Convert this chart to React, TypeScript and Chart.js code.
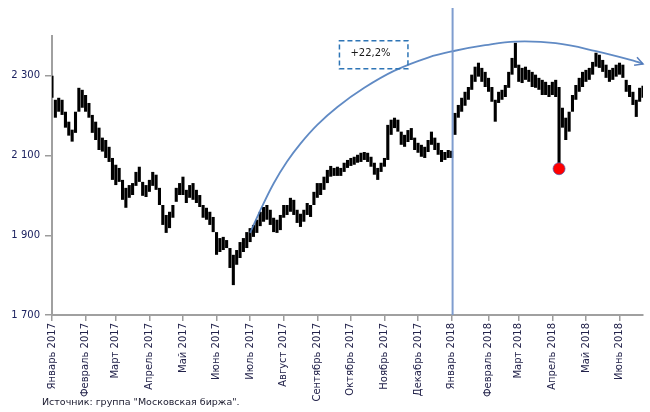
import React, { useEffect, useRef } from 'react';
import { Chart, registerables } from 'chart.js';

Chart.register(...registerables);

const monthLabels = [
  'Январь 2017', 'Февраль 2017', 'Март 2017', 'Апрель 2017', 'Май 2017', 'Июнь 2017',
  'Июль 2017', 'Август 2017', 'Сентябрь 2017', 'Октябрь 2017', 'Ноябрь 2017', 'Декабрь 2017',
  'Январь 2018', 'Февраль 2018', 'Март 2018', 'Апрель 2018', 'Май 2018', 'Июнь 2018',
];
const monthBarCounts = [10, 9, 10, 10, 10, 10, 10, 10, 10, 10, 10, 10, 11, 9, 10, 10, 10, 8];
const yTicks = [1700, 1900, 2100, 2300];

// [low, high] of the index, ~2 trading days per bar
const barRanges: [number, number][] = [
  // Jan 2017
  [2245, 2300], [2195, 2240], [2210, 2245], [2202, 2240], [2170, 2210], [2150, 2185], [2135, 2165], [2157, 2210], [2210, 2270], [2220, 2265],
  // Feb 2017
  [2210, 2252], [2195, 2232], [2157, 2202], [2139, 2185], [2114, 2170], [2110, 2145], [2094, 2139], [2084, 2122], [2039, 2094],
  // Mar 2017
  [2026, 2077], [2034, 2069], [1989, 2039], [1969, 2019], [1994, 2026], [2001, 2031], [2024, 2059], [2034, 2072], [1999, 2034], [1996, 2026],
  // Apr 2017
  [2009, 2039], [2024, 2059], [2014, 2052], [1976, 2019], [1926, 1976], [1906, 1951], [1918, 1959], [1944, 1976], [1984, 2019], [2001, 2031],
  // May 2017
  [2001, 2047], [1981, 2014], [1994, 2026], [1989, 2031], [1981, 2014], [1971, 2001], [1944, 1976], [1939, 1969], [1926, 1959], [1908, 1946],
  // Jun 2017
  [1851, 1908], [1858, 1893], [1863, 1896], [1868, 1888], [1818, 1868], [1775, 1851], [1826, 1863], [1843, 1883], [1858, 1893], [1868, 1908],
  // Jul 2017
  [1883, 1918], [1896, 1926], [1906, 1939], [1923, 1959], [1934, 1971], [1939, 1976], [1926, 1964], [1908, 1944], [1906, 1939], [1913, 1951],
  // Aug 2017
  [1944, 1976], [1951, 1976], [1959, 1994], [1951, 1989], [1931, 1964], [1921, 1954], [1934, 1964], [1951, 1981], [1946, 1976], [1976, 2009],
  // Sep 2017
  [1994, 2031], [2001, 2031], [2014, 2047], [2031, 2064], [2047, 2074], [2049, 2069], [2049, 2072], [2049, 2069], [2059, 2082], [2069, 2089],
  // Oct 2017
  [2074, 2094], [2077, 2097], [2082, 2102], [2084, 2107], [2089, 2109], [2084, 2107], [2072, 2097], [2052, 2082], [2039, 2069], [2059, 2082],
  // Nov 2017
  [2072, 2094], [2089, 2177], [2152, 2190], [2169, 2195], [2160, 2190], [2127, 2160], [2122, 2152], [2134, 2164], [2139, 2169], [2114, 2145],
  // Dec 2017
  [2107, 2132], [2097, 2127], [2094, 2122], [2109, 2139], [2127, 2160], [2114, 2145], [2102, 2132], [2084, 2114], [2089, 2109], [2094, 2114],
  // Jan 2018
  [2094, 2112], [2152, 2207], [2195, 2227], [2210, 2245], [2225, 2260], [2240, 2272], [2265, 2303], [2285, 2323], [2298, 2333], [2285, 2320], [2272, 2310],
  // Feb 2018
  [2260, 2295], [2235, 2272], [2185, 2240], [2232, 2260], [2240, 2265], [2247, 2277], [2270, 2310], [2303, 2345], [2320, 2383],
  // Mar 2018
  [2285, 2328], [2282, 2320], [2290, 2323], [2285, 2315], [2272, 2310], [2270, 2303], [2265, 2295], [2252, 2290], [2252, 2285], [2247, 2277],
  // Apr 2018
  [2252, 2285], [2247, 2290], [2069, 2272], [2170, 2220], [2139, 2195], [2160, 2210], [2210, 2252], [2240, 2277], [2260, 2295], [2272, 2310],
  // May 2018
  [2285, 2315], [2290, 2320], [2303, 2335], [2323, 2358], [2320, 2353], [2310, 2340], [2295, 2328], [2285, 2315], [2290, 2320], [2298, 2328],
  // Jun 2018
  [2303, 2333], [2295, 2328], [2260, 2290], [2247, 2277], [2227, 2260], [2197, 2240], [2235, 2270], [2245, 2275],
];

// hand-drawn growth arc (bar index, value)
const arcIndex = [59, 62, 66, 70, 74, 79, 85, 93, 102, 112, 120, 129, 138, 150, 162, 174, 176];
const arcValue = [1906, 1962, 2030, 2085, 2130, 2177, 2222, 2270, 2313, 2346, 2363, 2377, 2386, 2382, 2362, 2336, 2330];

const crashIndex = 151;
const crashLow = 2067;
const growthLabel = '+22,2%';
const sourceText = 'Источник: группа "Московская биржа".';

const FONT = '"DejaVu Sans", Verdana, sans-serif';

export default function App() {
  const ref = useRef<HTMLCanvasElement | null>(null);

  useEffect(() => {
    document.body.style.margin = '0';
    const canvas = ref.current;
    if (!canvas) return;

    const labels: string[] = [];
    const monthStarts: number[] = [];
    monthBarCounts.forEach((n, m) => {
      monthStarts.push(labels.length);
      for (let k = 0; k < n; k++) labels.push(k === 0 ? monthLabels[m] : '');
    });
    const total = labels.length;

    const arcData: (number | null)[] = new Array(total).fill(null);
    arcIndex.forEach((idx, k) => { arcData[idx] = arcValue[k]; });
    const dotData: (number | null)[] = new Array(total).fill(null);
    dotData[crashIndex] = crashLow;

    const decor = {
      id: 'decor',
      afterDatasetsDraw(chart: any) {
        const { ctx, chartArea } = chart;
        const x = chart.scales.x;
        const y = chart.scales.y;
        ctx.save();
        // vertical line at January 2018
        const vx = x.getPixelForValue(monthStarts[12]) + 1;
        ctx.strokeStyle = 'rgba(120,152,204,0.95)';
        ctx.lineWidth = 2;
        ctx.beginPath();
        ctx.moveTo(vx, 8);
        ctx.lineTo(vx, chartArea.bottom);
        ctx.stroke();

        // arrow head at arc end
        const meta = chart.getDatasetMeta(1);
        const pts = meta.data.filter((p: any) => !p.skip);
        if (pts.length > 1) {
          const a = pts[pts.length - 2];
          const b = pts[pts.length - 1];
          const ang = Math.atan2(b.y - a.y, b.x - a.x);
          const L = 9;
          ctx.strokeStyle = 'rgba(79,120,185,0.95)';
          ctx.lineWidth = 1.5;
          ctx.beginPath();
          ctx.moveTo(b.x - L * Math.cos(ang - 0.5), b.y - L * Math.sin(ang - 0.5));
          ctx.lineTo(b.x, b.y);
          ctx.lineTo(b.x - L * Math.cos(ang + 0.5), b.y - L * Math.sin(ang + 0.5));
          ctx.stroke();
        }

        // dashed label box
        const bx0 = x.getPixelForValue(85.6);
        const bx1 = x.getPixelForValue(106);
        const by0 = y.getPixelForValue(2388);
        const by1 = y.getPixelForValue(2318);
        ctx.setLineDash([5, 3]);
        ctx.strokeStyle = '#2e75b6';
        ctx.lineWidth = 1.5;
        ctx.strokeRect(bx0, by0, bx1 - bx0, by1 - by0);
        ctx.setLineDash([]);
        ctx.fillStyle = '#1a1a1a';
        ctx.font = `10px ${FONT}`;
        ctx.textAlign = 'left';
        ctx.textBaseline = 'middle';
        ctx.fillText(growthLabel, bx0 + 11, (by0 + by1) / 2 - 1);

        // source
        ctx.fillStyle = '#1a1a2e';
        ctx.font = `9.5px ${FONT}`;
        ctx.textBaseline = 'alphabetic';
        ctx.fillText(sourceText, 42, 405);
        ctx.restore();
      },
    };

    const chart = new Chart(canvas, {
      type: 'bar',
      data: {
        labels,
        datasets: [
          {
            type: 'line',
            data: dotData,
            showLine: false,
            pointRadius: 6,
            pointBackgroundColor: '#ff0000',
            pointBorderColor: 'rgba(80,90,170,0.7)',
            pointBorderWidth: 1,
            order: 1,
          } as any,
          {
            type: 'line',
            data: arcData,
            spanGaps: true,
            borderColor: 'rgba(79,125,190,0.9)',
            borderWidth: 1.8,
            pointRadius: 0,
            tension: 0.4,
            fill: false,
            order: 2,
          } as any,
          {
            type: 'bar',
            data: barRanges as any,
            backgroundColor: '#000000',
            barPercentage: 0.92,
            categoryPercentage: 1,
            order: 3,
          },
        ],
      },
      options: {
        responsive: false,
        animation: false,
        devicePixelRatio: 1,
        layout: { padding: { top: 36, left: 0, right: 0, bottom: 0 } },
        plugins: { legend: { display: false }, tooltip: { enabled: false } },
        scales: {
          x: {
            type: 'category',
            offset: false,
            grid: { offset: false, drawOnChartArea: false, drawTicks: true, tickLength: 6, color: '#9c9c9c', lineWidth: 1.5 },
            border: { color: '#a0a0a0', width: 2 },
            ticks: {
              autoSkip: false,
              maxRotation: 90,
              minRotation: 90,
              padding: 2,
              color: '#22224a',
              font: { family: FONT, size: 10 },
              callback: function (this: any, value: any) {
                const l = this.getLabelForValue(value);
                return l === '' ? null : l;
              },
            },
            afterFit: (scale: any) => {
              scale.height = 97;
              scale.paddingLeft = 0;
              scale.paddingRight = 0;
            },
          },
          y: {
            min: 1700,
            max: 2400,
            grid: { drawOnChartArea: false, drawTicks: true, tickLength: 7, color: '#9c9c9c', lineWidth: 1.5 },
            border: { color: '#a0a0a0', width: 2 },
            afterBuildTicks: (scale: any) => {
              scale.ticks = yTicks.map((v) => ({ value: v }));
            },
            ticks: {
              padding: 5,
              color: '#1c2260',
              font: { family: FONT, size: 10 },
              callback: (v: any) => String(v).replace(/\B(?=(\d{3})+(?!\d))/g, ' '),
            },
            afterFit: (scale: any) => {
              scale.width = 52;
            },
          },
        },
      },
      plugins: [decor],
    });

    return () => chart.destroy();
  }, []);

  return (
    <div style={{ width: 650, height: 412 }}>
      <canvas ref={ref} width={650} height={412} style={{ display: 'block' }} />
    </div>
  );
}
